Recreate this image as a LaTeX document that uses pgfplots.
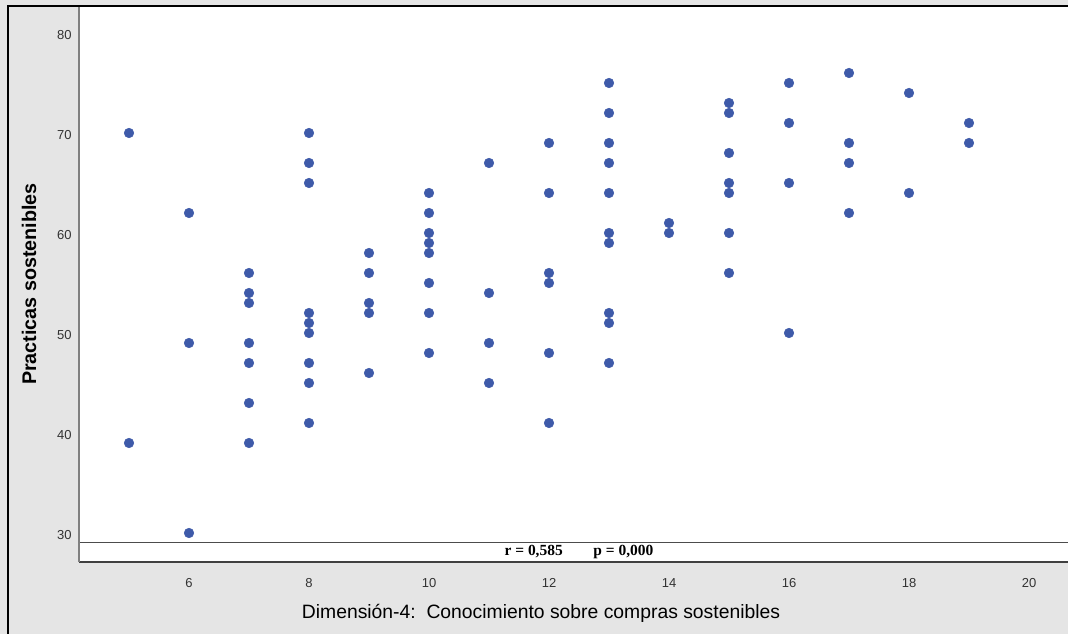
\documentclass[border=0pt]{standalone}
\usepackage{pgfplots}
\pgfplotsset{compat=1.18}
\usepackage{fontspec}
\setmainfont{Liberation Sans}
\newfontfamily\serifb{Liberation Serif}
\definecolor{bg}{HTML}{E5E5E5}
\definecolor{dotblue}{HTML}{3E5AA9}
\definecolor{ticktxt}{HTML}{333333}
\begin{document}
\begin{tikzpicture}
\useasboundingbox (0,0) rectangle (801pt,475.5pt);
\clip (0,0) rectangle (801pt,475.5pt);
\fill[bg] (0,0) rectangle (801pt,475.5pt);
\begin{axis}[
  at={(59.25pt,54pt)}, anchor=south west,
  scale only axis, width=750pt, height=416.25pt,
  xmin=4.1667, xmax=20.8333, ymin=27.1, ymax=82.6,
  axis background/.style={fill=white},
  axis line style={draw=none},
  xtick={6,8,...,20}, ytick={30,40,...,80},
  major tick length=0pt, minor tick num=0,
  /pgf/number format/assume math mode=true,
  tick label style={font=\fontsize{9.75}{10}\selectfont, text=ticktxt},
  xticklabel style={yshift=-9pt},
  yticklabel style={xshift=-2pt, yshift=-1.5pt},
  clip=false,
]
\addplot[only marks, mark=*, mark size=3.6pt, draw=dotblue, fill=dotblue,
  mark options={draw=dotblue, fill=dotblue}] table {
x y
5 70
5 39
6 62
6 49
6 30
7 56
7 54
7 53
7 49
7 47
7 43
7 39
8 70
8 67
8 65
8 52
8 51
8 50
8 47
8 45
8 41
9 58
9 56
9 53
9 52
9 46
10 64
10 62
10 60
10 59
10 58
10 55
10 52
10 48
11 67
11 54
11 49
11 45
12 69
12 64
12 56
12 55
12 48
12 41
13 75
13 72
13 69
13 67
13 64
13 60
13 59
13 52
13 51
13 47
14 61
14 60
15 73
15 72
15 68
15 65
15 64
15 60
15 56
16 75
16 71
16 65
16 50
17 76
17 69
17 67
17 62
18 74
18 64
19 71
19 69
};
\fill[white] (axis cs:4.1667,27.1) rectangle (axis cs:20.8333,29.05);
\draw[black!70, line width=1.2pt] (axis cs:4.1667,29.05) -- (axis cs:20.8333,29.05);
\draw[black!75, line width=1.5pt] (axis cs:4.1667,27.1) -- (axis cs:20.8333,27.1);
\draw[black!50, line width=1.2pt] (axis cs:4.1667,27.1) -- (axis cs:4.1667,82.6);
\node[font=\serifb\bfseries\fontsize{11.6}{12}\selectfont, inner sep=0pt] at (axis cs:12.5,28.05) {r = 0,585\hspace{23pt}p = 0,000};
\end{axis}
\node[font=\fontsize{14.5}{16}\selectfont] at (405.75pt,15.75pt) {Dimensión-4:\ \ Conocimiento sobre compras sostenibles};
\node[font=\bfseries\fontsize{14.8}{16}\selectfont, rotate=90] at (21.75pt,262.5pt) {Practicas sostenibles};
\draw[black, line width=1.6pt] (6pt,0) -- (6pt,471pt) -- (801pt,471pt);
\end{tikzpicture}
\end{document}
